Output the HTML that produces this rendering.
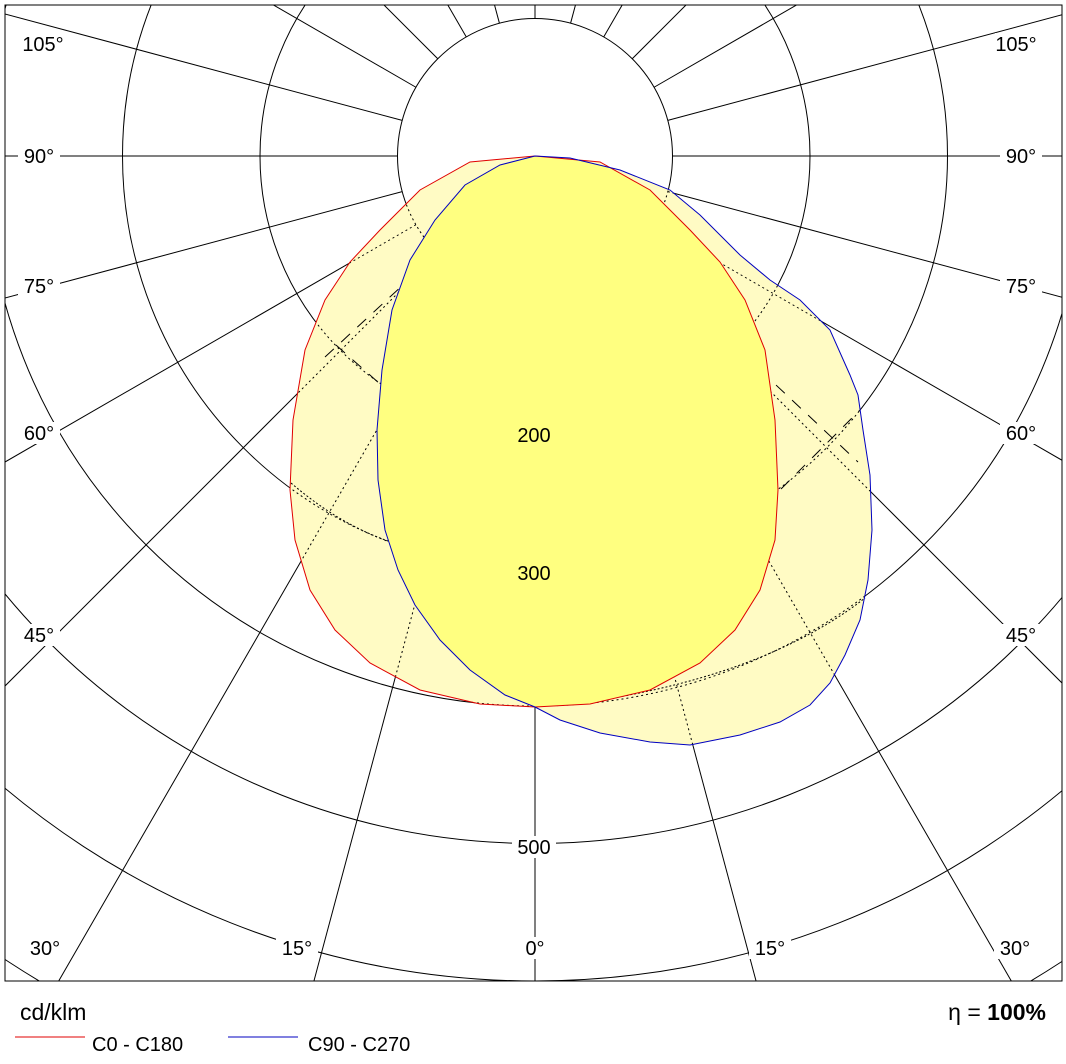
<!DOCTYPE html>
<html><head><meta charset="utf-8"><style>
html,body{margin:0;padding:0;background:#fff;overflow:hidden;width:1066px;height:1064px;}
svg{display:block;font-family:"Liberation Sans",Arial,sans-serif;}
</style></head><body>
<svg width="1066" height="1064" viewBox="0 0 1066 1064" xmlns="http://www.w3.org/2000/svg">
<defs>
<path id="redp" d="M535,156 L470,162 L420,190 L380,230 L350,262 L325,300 L305,350 L293,420 L290,490 L295,540 L310,590 L335,630 L370,663 L420,690 L480,704 L535,707 L590,704 L650,690 L700,663 L735,630 L760,590 L775,540 L778,490 L775,420 L765,350 L745,300 L720,262 L690,230 L650,190 L600,162 Z"/>
<path id="bluep" d="M535,156 L500,165 L465,185 L435,220 L410,260 L392,310 L382,370 L377,430 L378,480 L385,530 L398,570 L415,605 L440,640 L470,670 L505,695 L535,707 L560,720 L600,733 L650,742 L690,745 L740,735 L780,722 L810,705 L830,683 L845,655 L860,620 L868,580 L872,530 L870,475 L863,430 L858,395 L850,375 L830,330 L800,300 L770,280 L740,255 L700,215 L670,190 L620,170 L570,158 Z"/>
<clipPath id="frame"><rect x="5" y="5" width="1057" height="976"/></clipPath>
<clipPath id="redc"><use href="#redp"/></clipPath>
<clipPath id="unionc"><use href="#redp"/><use href="#bluep"/></clipPath>
<g id="grid">
  <g transform="translate(535,156)">
    <circle r="137.5"/><circle r="275"/><circle r="412.5"/><circle r="550"/><circle r="687.5"/><circle r="825"/><circle r="962.5"/><circle r="1100"/>
    <line x1="-600" y1="0" x2="-137.5" y2="0"/><line x1="137.5" y1="0" x2="600" y2="0"/>
    <g id="rad">
      <line x1="0" y1="137.5" x2="0" y2="1600"/>
      <line x1="0" y1="137.5" x2="0" y2="1600" transform="rotate(15)"/>
      <line x1="0" y1="137.5" x2="0" y2="1600" transform="rotate(30)"/>
      <line x1="0" y1="137.5" x2="0" y2="1600" transform="rotate(45)"/>
      <line x1="0" y1="137.5" x2="0" y2="1600" transform="rotate(60)"/>
      <line x1="0" y1="137.5" x2="0" y2="1600" transform="rotate(75)"/>
      <line x1="0" y1="137.5" x2="0" y2="1600" transform="rotate(105)"/>
      <line x1="0" y1="137.5" x2="0" y2="1600" transform="rotate(120)"/>
      <line x1="0" y1="137.5" x2="0" y2="1600" transform="rotate(135)"/>
      <line x1="0" y1="137.5" x2="0" y2="1600" transform="rotate(150)"/>
      <line x1="0" y1="137.5" x2="0" y2="1600" transform="rotate(165)"/>
      <line x1="0" y1="137.5" x2="0" y2="1600" transform="rotate(180)"/>
    </g>
    <use href="#rad" transform="scale(-1,1)"/>
  </g>
</g>
</defs>
<rect width="1066" height="1064" fill="#fff"/>
<g clip-path="url(#frame)" stroke="#000" stroke-width="1" fill="none">
  <use href="#grid"/>
</g>
<!-- light fills -->
<use href="#redp" fill="#fffbc4"/>
<use href="#bluep" fill="#fffbc4"/>
<!-- grid through fill, dotted -->
<g clip-path="url(#unionc)" stroke="#000" stroke-width="1" fill="none" stroke-dasharray="2,3">
  <use href="#grid"/>
</g>
<!-- dashed / dotted -->
<g stroke="#000" fill="none" stroke-width="1">
  <line x1="325" y1="357" x2="430" y2="260" stroke-dasharray="12,10"/>
  <line x1="336" y1="345" x2="380" y2="384" stroke-dasharray="12,10"/>
  <line x1="760" y1="370" x2="858" y2="462" stroke-dasharray="12,10"/>
  <line x1="781" y1="489" x2="860" y2="410" stroke-dasharray="12,10"/>
  <path d="M291,483 Q340,525 391,542" stroke-dasharray="2,2"/>
  <path d="M567,705 Q760,680 865,598" stroke-dasharray="2,2"/>
</g>
<!-- solid intersection -->
<use href="#bluep" fill="#ffff80" clip-path="url(#redc)"/>
<use href="#redp" fill="none" stroke="#e00000" stroke-width="1"/>
<use href="#bluep" fill="none" stroke="#0000c0" stroke-width="1"/>
<rect x="5" y="5" width="1057" height="976" fill="none" stroke="#000" stroke-width="1"/>
<g fill="#fff">
  <rect x="18" y="33" width="52" height="22"/><rect x="995" y="33" width="52" height="22"/>
  <rect x="18" y="145" width="42" height="22"/><rect x="1000" y="145" width="42" height="22"/>
  <rect x="18" y="275" width="42" height="22"/><rect x="1000" y="275" width="42" height="22"/>
  <rect x="18" y="422" width="42" height="22"/><rect x="1000" y="422" width="42" height="22"/>
  <rect x="18" y="624" width="42" height="22"/><rect x="1000" y="624" width="42" height="22"/>
  <rect x="24" y="937" width="42" height="22"/><rect x="276" y="937" width="42" height="22"/><rect x="520" y="937" width="30" height="22"/><rect x="749" y="937" width="42" height="22"/><rect x="994" y="937" width="42" height="22"/>
  <rect x="512" y="836" width="44" height="22"/>
</g>
<g font-size="20" fill="#000" text-anchor="middle">
  <text x="534" y="442">200</text>
  <text x="534" y="580">300</text>
  <text x="534" y="854">500</text>
  <text x="43" y="51">105°</text><text x="1016" y="51">105°</text>
  <text x="39" y="163">90°</text><text x="1021" y="163">90°</text>
  <text x="39" y="293">75°</text><text x="1021" y="293">75°</text>
  <text x="39" y="440">60°</text><text x="1021" y="440">60°</text>
  <text x="39" y="642">45°</text><text x="1021" y="642">45°</text>
  <text x="45" y="955">30°</text><text x="297" y="955">15°</text><text x="535" y="955">0°</text><text x="770" y="955">15°</text><text x="1015" y="955">30°</text>
</g>
<text x="20" y="1020" font-size="23">cd/klm</text>
<text x="1046" y="1020" font-size="23" text-anchor="end">η = <tspan font-weight="bold">100%</tspan></text>
<line x1="15" y1="1037" x2="85" y2="1037" stroke="#e00000"/>
<text x="92" y="1051" font-size="20">C0 - C180</text>
<line x1="228" y1="1037" x2="298" y2="1037" stroke="#0000c0"/>
<text x="308" y="1051" font-size="20">C90 - C270</text>
</svg>
</body></html>
